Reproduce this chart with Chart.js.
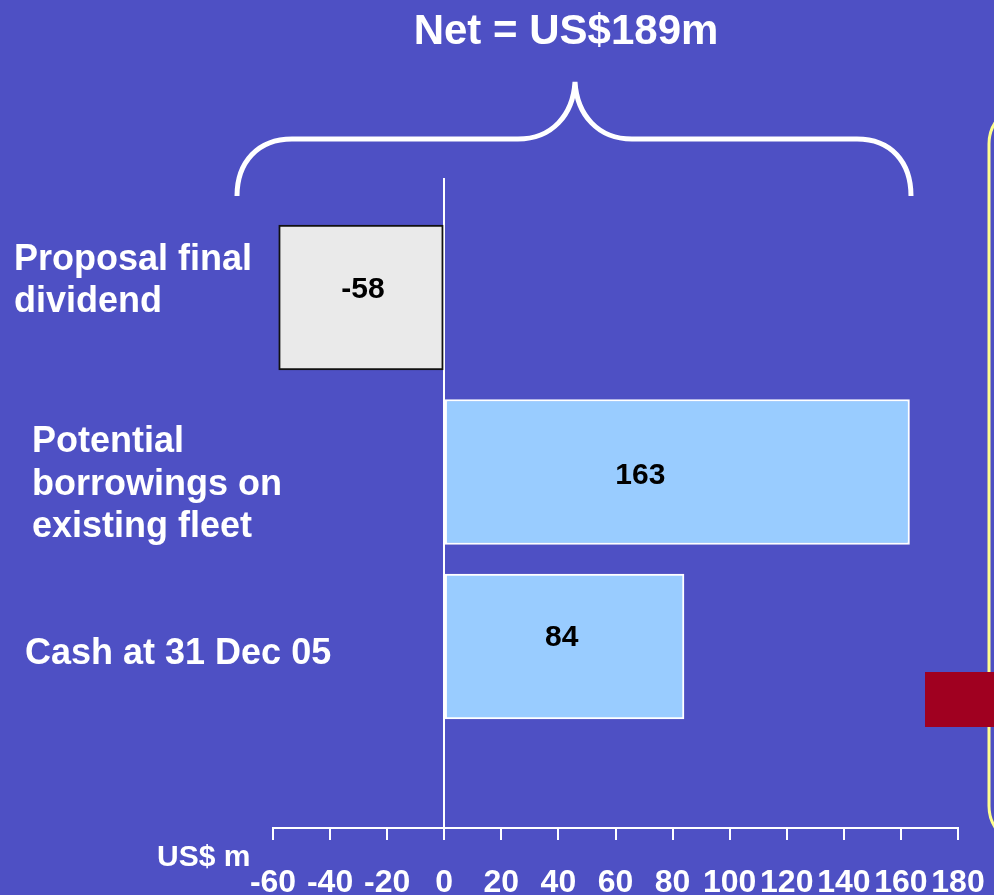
<!DOCTYPE html>
<html lang="en">
<head>
<meta charset="UTF-8">
<title>Net = US$189m</title>
<script src="https://cdn.jsdelivr.net/npm/chart.js@4"></script>
<style>
    body { margin: 0; background: #4e50c4; overflow: hidden; }
    canvas { display: block; }
</style>
</head>
<body>
<canvas id="netChart" width="994" height="895"></canvas>

<script>
    // categories top to bottom, one array of lines per label
    var categories = [
        ['Proposal final', 'dividend'],
        ['Potential', 'borrowings on', 'existing fleet'],
        ['Cash at 31 Dec 05']
    ];
    var values = [-58, 163, 84];
    var xTicks = [-60, -40, -20, 0, 20, 40, 60, 80, 100, 120, 140, 160, 180];
    var barColors = ['#eaeaea', '#99ccff', '#99ccff'];
    var barBorders = ['#111111', '#ffffff', '#ffffff'];
    var netText = 'Net = US$189m';
    var unitText = 'US$ m';

    var FONT = "'Liberation Sans', Arial, sans-serif";

    // category labels, brace, title, unit, value labels and the side frame
    var decorations = {
        id: 'decorations',
        afterDraw: function (chart, args, opts) {
            var c = chart.ctx;
            var yScale = chart.scales.y;
            c.save();

            // category labels, left aligned beside each bar
            c.fillStyle = '#fff';
            c.font = 'bold 36px ' + FONT;
            c.textAlign = 'left';
            c.textBaseline = 'alphabetic';
            categories.forEach(function (lines, i) {
                var place = opts.catLabels[i];
                var y0 = yScale.getPixelForValue(i + 1) + place.dy;
                lines.forEach(function (line, k) {
                    c.fillText(line, place.x, y0 + k * 42.5);
                });
            });

            // value labels inside the bars
            var meta = chart.getDatasetMeta(0);
            c.fillStyle = '#000';
            c.font = 'bold 30px ' + FONT;
            c.textAlign = 'center';
            c.textBaseline = 'middle';
            meta.data.forEach(function (bar, i) {
                var shift = opts.labelShift[i];
                c.fillText(String(values[i]), (bar.x + bar.base) / 2 + shift[0], bar.y + shift[1]);
            });

            // title
            c.fillStyle = '#fff';
            c.font = 'bold 42px ' + FONT;
            c.textBaseline = 'alphabetic';
            c.fillText(netText, 566, 44);

            // unit label by the axis
            c.font = 'bold 30px ' + FONT;
            c.textAlign = 'left';
            c.fillText(unitText, 157, 866);

            // curly brace
            c.strokeStyle = '#fff';
            c.lineWidth = 5;
            c.beginPath();
            c.moveTo(237, 196);
            c.bezierCurveTo(237, 162, 258, 139, 292, 139);
            c.lineTo(518, 139);
            c.bezierCurveTo(552, 139, 573, 115, 575, 82);
            c.bezierCurveTo(577, 115, 598, 139, 632, 139);
            c.lineTo(857, 139);
            c.bezierCurveTo(891, 139, 911, 162, 911, 196);
            c.stroke();

            // frame on the right edge
            c.strokeStyle = '#ffff8c';
            c.lineWidth = 3;
            c.beginPath();
            c.roundRect(989, 104, 120, 742, 40);
            c.stroke();

            c.fillStyle = '#a00020';
            c.fillRect(925, 672, 69, 55);

            c.restore();
        }
    };

    var ctx = document.getElementById('netChart').getContext('2d');

    var netChart = new Chart(ctx, {
        type: 'bar',
        data: {
            datasets: [{
                data: values.map(function (v, i) { return { x: v, y: i + 1 }; }),
                backgroundColor: barColors,
                borderColor: barBorders,
                borderWidth: 2,
                borderSkipped: false,
                barThickness: 145
            }]
        },
        options: {
            indexAxis: 'y',
            responsive: false,
            animation: false,
            layout: {
                padding: { left: 273, right: 36, top: 178, bottom: 0 }
            },
            plugins: {
                legend: { display: false },
                tooltip: { enabled: false },
                decorations: {
                    labelShift: [[2, -8], [-37, 4], [-3, -9]],
                    catLabels: [{ x: 14, dy: -28 }, { x: 32, dy: -20 }, { x: 25, dy: 17 }]
                }
            },
            scales: {
                x: {
                    type: 'linear',
                    position: 'bottom',
                    min: xTicks[0],
                    max: xTicks[xTicks.length - 1],
                    afterBuildTicks: function (scale) {
                        scale.ticks = xTicks.map(function (v) { return { value: v }; });
                    },
                    afterFit: function (scale) {
                        scale.height = 67;
                        scale.paddingLeft = 0;
                        scale.paddingRight = 0;
                    },
                    border: { color: '#fff', width: 2 },
                    grid: {
                        color: function (c) {
                            return c.tick && c.tick.value === 0 ? '#fff' : 'rgba(0,0,0,0)';
                        },
                        lineWidth: 2,
                        tickColor: '#fff',
                        tickWidth: 2,
                        tickLength: 12
                    },
                    ticks: {
                        color: '#fff',
                        font: { family: FONT, size: 32, weight: 'bold' },
                        padding: 24,
                        autoSkip: false,
                        maxRotation: 0
                    }
                },
                y: {
                    type: 'linear',
                    display: false,
                    offset: false,
                    reverse: true,
                    min: 0.315,
                    max: 4.04
                }
            }
        },
        plugins: [decorations]
    });
</script>
</body>
</html>
